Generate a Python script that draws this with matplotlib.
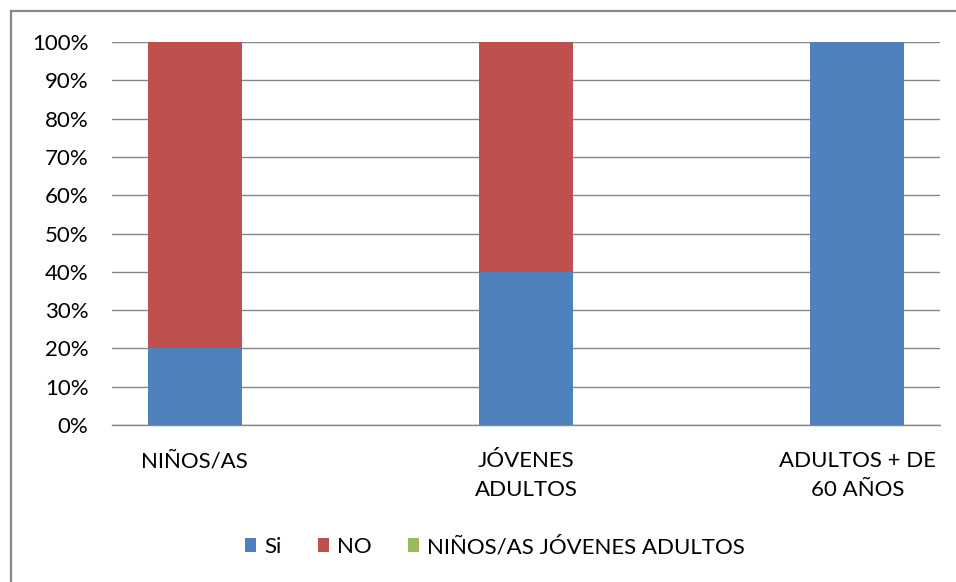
import matplotlib
matplotlib.use("Agg")
import matplotlib.pyplot as plt
from matplotlib.lines import Line2D
from matplotlib.ticker import FuncFormatter

categories = ["NIÑOS/AS", "JÓVENES\nADULTOS", "ADULTOS + DE\n60 AÑOS"]
si_values = [20, 40, 100]
no_values = [80, 60, 0]
green_values = [0, 0, 0]
series_names = ["Si", "NO", "NIÑOS/AS JÓVENES ADULTOS"]
colors = ["#4F81BD", "#C0504D", "#9BBB59"]
yticks = list(range(0, 101, 10))

plt.rcParams['font.family'] = ['Lato', 'DejaVu Sans']
FS = 16

fig = plt.figure(figsize=(9.56, 5.82), dpi=100)
ax = fig.add_axes([112/956, 1-425/582, (940-112)/956, (425-42)/582])

x = list(range(len(categories)))
w = 0.284
b1 = ax.bar(x, si_values, w, color=colors[0], label=series_names[0], zorder=3)
b2 = ax.bar(x, no_values, w, bottom=si_values, color=colors[1], label=series_names[1], zorder=3)
bottoms = [a + b for a, b in zip(si_values, no_values)]
b3 = ax.bar(x, green_values, w, bottom=bottoms, color=colors[2], label=series_names[2], zorder=3)

ax.set_xlim(-0.25, 2.25)
ax.set_ylim(0, 100)
ax.set_yticks(yticks)
ax.yaxis.set_major_formatter(FuncFormatter(lambda v, p: f"{int(v)}%"))
ax.set_xticks(x)
ax.set_xticklabels(categories, fontsize=FS, color="#000000", linespacing=1.55)
ax.tick_params(axis='y', labelsize=FS, length=0, pad=17)
ax.tick_params(axis='x', length=0, pad=19)
ax.grid(axis='y', color="#868686", linewidth=1, zorder=0)
for s in ["top", "right", "left"]:
    ax.spines[s].set_visible(False)
ax.spines["bottom"].set_color("#868686")
ax.spines["bottom"].set_linewidth(1)
ax.spines["bottom"].set_zorder(4)

leg = fig.legend(handles=[b1, b2, b3], labels=series_names, loc='center',
                 bbox_to_anchor=(495/956, 1-547/582), ncol=3, frameon=False,
                 fontsize=FS, handlelength=0.5, handleheight=0.6, handletextpad=0.35,
                 columnspacing=1.65)

fig.add_artist(Line2D([10.5/956, 10.5/956], [0, 1-10.5/582], transform=fig.transFigure,
                      color="#888888", linewidth=1.6))
fig.add_artist(Line2D([10.5/956, 1], [1-10.5/582, 1-10.5/582], transform=fig.transFigure,
                      color="#888888", linewidth=1.6))

fig.savefig("out.png", dpi=100)
